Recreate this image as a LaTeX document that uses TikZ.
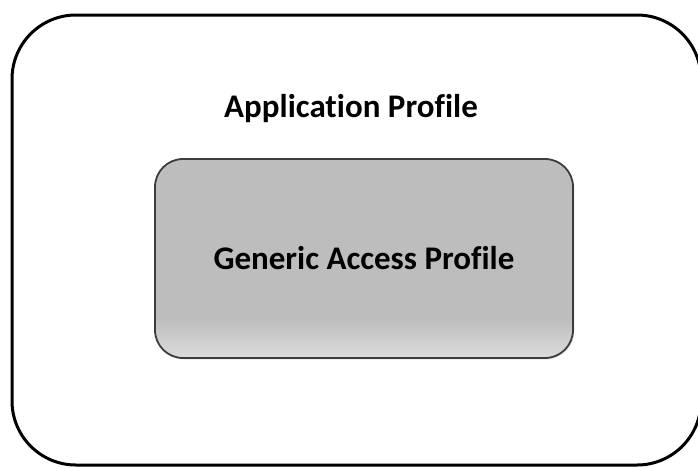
\documentclass[tikz,border=0pt]{standalone}
\usepackage{fontspec}
\setsansfont{Carlito}[RawFeature=-liga]
\usepackage{xcolor}
\usetikzlibrary{positioning,shadows}

\definecolor{gapGray}{HTML}{BDBDBD}
\definecolor{gapLight}{HTML}{DCDCDC}
\definecolor{gapEdge}{HTML}{3C3C3C}
% lighter band at the foot of the inner box
\pgfdeclareverticalshading{gapshade}{100bp}{color(0bp)=(gapLight); color(25bp)=(gapLight); color(35bp)=(gapGray); color(100bp)=(gapGray)}

\begin{document}
\begin{tikzpicture}[
    % GLOBAL CFG
    x=1pt, y=-1pt,
    font=\sffamily\bfseries\fontsize{33}{39}\selectfont,
    % Styles
    profile/.style={% For the outer box
        rectangle,
        rounded corners=64pt,
        draw,
        line width=3pt,
        },
    gap/.style={% For the inner box
        rectangle,
        rounded corners=28pt,
        draw=gapEdge,
        line width=1.8pt,
        shading=gapshade,
        drop shadow={opacity=0.2, shadow xshift=1.5pt, shadow yshift=-1.5pt},
        },
    ]
    \useasboundingbox (0,0) rectangle (698,467);

    % Draw the outer box
    \node [profile, minimum width=689pt, minimum height=450pt] (app) at (356.5,240) {};
    \node (apptitle) at (351,109) {Application Profile};

    % Draw the inner box
    \node [gap, minimum width=418pt, minimum height=199pt] (gap) at (364,258.5) {Generic Access Profile};

\end{tikzpicture}
\end{document}
